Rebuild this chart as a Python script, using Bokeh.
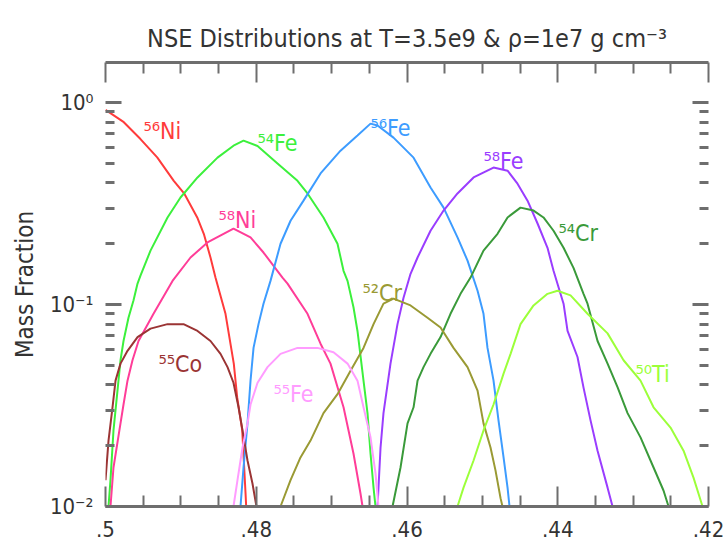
from bokeh.plotting import figure
from bokeh.models import Range1d, FixedTicker, LinearAxis, LogAxis
from bokeh.core.properties import value
from bokeh.embed import file_html
from bokeh.resources import INLINE

# ---------------- data ----------------
ni56_ye = [0.5, 0.49757, 0.49536, 0.49314, 0.49094, 0.48952, 0.48783, 0.48696, 0.48607,
           0.48541, 0.48408, 0.48298, 0.48253, 0.48186, 0.48142, 0.48133]
ni56_y = [0.92, 0.80, 0.66, 0.536, 0.41, 0.353, 0.27, 0.224, 0.171,
          0.136, 0.090, 0.051, 0.0347, 0.0238, 0.0116, 0.0099]

ni58_ye = [0.49934, 0.49894, 0.49801, 0.49761, 0.49708, 0.49642, 0.49562, 0.49363, 0.49111,
           0.48872, 0.48647, 0.48302, 0.48076, 0.47904, 0.47652, 0.47585, 0.47320, 0.47147,
           0.47015, 0.46842, 0.46710, 0.46617, 0.46590]
ni58_y = [0.010, 0.0156, 0.0258, 0.032, 0.042, 0.053, 0.066, 0.090, 0.131,
          0.171, 0.203, 0.238, 0.215, 0.181, 0.136, 0.127, 0.090, 0.064,
          0.051, 0.031, 0.0183, 0.0116, 0.010]

fe54_ye = [0.49960, 0.49934, 0.49894, 0.49841, 0.49801, 0.49761, 0.49695, 0.49628, 0.49575,
           0.49536, 0.49403, 0.49177, 0.49005, 0.48779, 0.48514, 0.48302, 0.48169, 0.47983,
           0.47718, 0.47453, 0.47320, 0.47108, 0.46922, 0.46842, 0.46789, 0.46710, 0.46657,
           0.46577, 0.46524, 0.46484, 0.46444, 0.46418]
fe54_y = [0.010, 0.0135, 0.0238, 0.0375, 0.053, 0.066, 0.086, 0.105, 0.127,
          0.139, 0.185, 0.27, 0.339, 0.426, 0.534, 0.612, 0.648, 0.61,
          0.50, 0.41, 0.355, 0.27, 0.20, 0.147, 0.131, 0.097, 0.074,
          0.042, 0.029, 0.0183, 0.0124, 0.010]

fe56_ye = [0.48209, 0.48169, 0.48116, 0.48076, 0.48036, 0.47970, 0.47904, 0.47811, 0.47678,
           0.47545, 0.47373, 0.47147, 0.46882, 0.46657, 0.46484, 0.46391, 0.46179, 0.45913,
           0.45688, 0.45515, 0.45330, 0.45197, 0.45064, 0.44985, 0.44932, 0.44852, 0.44786,
           0.44719, 0.44666, 0.44640]
fe56_y = [0.010, 0.0156, 0.0258, 0.042, 0.061, 0.080, 0.101, 0.131, 0.20,
          0.26, 0.327, 0.446, 0.578, 0.687, 0.787, 0.77, 0.671, 0.534,
          0.38, 0.302, 0.215, 0.165, 0.117, 0.090, 0.061, 0.042, 0.0267,
          0.0175, 0.0124, 0.010]

fe58_ye = [0.46391, 0.46351, 0.46312, 0.46219, 0.46126, 0.46046, 0.45953, 0.45860, 0.45688,
           0.45515, 0.45330, 0.45117, 0.44852, 0.44666, 0.44534, 0.44401, 0.44268, 0.44136,
           0.44056, 0.43923, 0.43870, 0.43738, 0.43658, 0.43565, 0.43472, 0.43339, 0.43273]
fe58_y = [0.010, 0.0196, 0.029, 0.051, 0.080, 0.108, 0.142, 0.171, 0.232,
          0.292, 0.355, 0.426, 0.477, 0.46, 0.397, 0.327, 0.252, 0.191,
          0.147, 0.101, 0.074, 0.055, 0.0388, 0.0267, 0.0189, 0.0124, 0.010]

cr54_ye = [0.46192, 0.46086, 0.45993, 0.45913, 0.45860, 0.45781, 0.45688, 0.45555, 0.45423,
           0.45290, 0.45157, 0.44985, 0.44799, 0.44666, 0.44494, 0.44321, 0.44189, 0.44056,
           0.43923, 0.43791, 0.43658, 0.43605, 0.43472, 0.43339, 0.43207, 0.43074, 0.42902,
           0.42729, 0.42597, 0.42530]
cr54_y = [0.010, 0.0156, 0.0258, 0.031, 0.042, 0.049, 0.057, 0.069, 0.090,
          0.113, 0.136, 0.185, 0.224, 0.27, 0.302, 0.292, 0.27, 0.232,
          0.191, 0.152, 0.113, 0.101, 0.066, 0.051, 0.039, 0.029, 0.022,
          0.0156, 0.012, 0.010]

cr52_ye = [0.47678, 0.47545, 0.47413, 0.47280, 0.47108, 0.46922, 0.46749, 0.46577, 0.46444,
           0.46312, 0.46179, 0.45953, 0.45728, 0.45555, 0.45383, 0.45197, 0.45064, 0.44985,
           0.44892, 0.44826, 0.44759, 0.44733]
cr52_y = [0.010, 0.0135, 0.0175, 0.0212, 0.029, 0.036, 0.047, 0.061, 0.080,
          0.101, 0.107, 0.099, 0.086, 0.077, 0.061, 0.049, 0.0375, 0.0258,
          0.0196, 0.0151, 0.011, 0.010]

ti50_ye = [0.45330, 0.45250, 0.45117, 0.44985, 0.44852, 0.44719, 0.44626, 0.44494, 0.44321,
           0.44136, 0.44003, 0.43830, 0.43605, 0.43339, 0.43127, 0.42902, 0.42729, 0.42504,
           0.42331, 0.42199, 0.42079]
ti50_y = [0.010, 0.0124, 0.0169, 0.0238, 0.032, 0.0455, 0.057, 0.080, 0.099,
          0.113, 0.117, 0.111, 0.090, 0.072, 0.053, 0.042, 0.031, 0.0246,
          0.0189, 0.0139, 0.010]

co55_ye = [0.5, 0.49960, 0.49907, 0.49867, 0.49801, 0.49708, 0.49575, 0.49403, 0.49177,
           0.48965, 0.48779, 0.48607, 0.48474, 0.48381, 0.48302, 0.48235, 0.48182, 0.48116,
           0.48050, 0.47997]
co55_y = [0.0135, 0.0212, 0.031, 0.042, 0.051, 0.059, 0.069, 0.076, 0.080,
          0.080, 0.074, 0.066, 0.057, 0.049, 0.041, 0.031, 0.0238, 0.0169,
          0.013, 0.010]

fe55_ye = [0.48302, 0.48249, 0.48182, 0.48116, 0.48076, 0.47983, 0.47851, 0.47678, 0.47453,
           0.47187, 0.46975, 0.46789, 0.46657, 0.46577, 0.46484, 0.46418, 0.46378]
fe55_y = [0.010, 0.0135, 0.0196, 0.0258, 0.032, 0.041, 0.049, 0.057, 0.061,
          0.061, 0.058, 0.051, 0.042, 0.031, 0.022, 0.0146, 0.010]

species = ["⁵⁶Ni", "⁵⁴Fe", "⁵⁸Ni", "⁵⁶Fe", "⁵⁸Fe", "⁵⁴Cr", "⁵²Cr", "⁵⁵Co", "⁵⁵Fe", "⁵⁰Ti"]
series_ye = [ni56_ye, fe54_ye, ni58_ye, fe56_ye, fe58_ye, cr54_ye, cr52_ye, co55_ye, fe55_ye, ti50_ye]
series_y = [ni56_y, fe54_y, ni58_y, fe56_y, fe58_y, cr54_y, cr52_y, co55_y, fe55_y, ti50_y]

# label anchor positions (data units)
label_ye = [0.49496, 0.47983, 0.48501, 0.46484, 0.44985, 0.43990, 0.46590, 0.49297, 0.47771, 0.42968]
label_y = [0.726, 0.634, 0.261, 0.751, 0.516, 0.227, 0.1146, 0.051, 0.0362, 0.0455]

x_ticks = [0.5, 0.48, 0.46, 0.44, 0.42]
x_tick_labels = [".5", ".48", ".46", ".44", ".42"]
y_ticks = [0.01, 0.1, 1.0]
y_tick_labels = ["10⁻²", "10⁻¹", "10⁰"]

# ---------------- styling ----------------
colors = ["#ff3b3b", "#3cf03c", "#ff3d98", "#3d9cff", "#9a3dff",
          "#3a9a3a", "#9a9a34", "#9b3434", "#ff9cff", "#9cff3a"]
FONT = "Liberation Sans Narrow, DejaVu Sans Condensed, Liberation Sans, sans-serif"
AX = "#6e6e6e"
TXT = "#333333"

x_minor = [round(0.5 - 0.005 * i, 3) for i in range(17) if i % 4]
y_minor = [k * 10.0 ** e for e in (-2, -1) for k in range(2, 10)]

p = figure(frame_width=603, frame_height=444,
           min_border_left=105, min_border_right=20, min_border_top=62, min_border_bottom=52,
           x_range=Range1d(0.5, 0.42), y_range=Range1d(0.01, 1.58),
           y_axis_type="log", output_backend="svg", toolbar_location=None)
p.background_fill_color = "white"
p.border_fill_color = "white"
p.outline_line_color = None
p.xgrid.visible = False
p.ygrid.visible = False

bottom = p.below[0]
left = p.left[0]

p.title.text = "NSE Distributions at T=3.5e9 & ρ=1e7 g cm⁻³"
p.title.align = "center"
p.title.text_font = FONT
p.title.text_font_size = "25px"
p.title.text_font_style = "normal"
p.title.text_color = TXT
p.title.standoff = 20

xt = FixedTicker(ticks=x_ticks, minor_ticks=x_minor)
yt = FixedTicker(ticks=y_ticks, minor_ticks=y_minor)

top = LinearAxis(ticker=xt, major_label_overrides={t: "" for t in x_ticks})
right = LogAxis(ticker=yt, major_label_overrides={t: "" for t in y_ticks})
p.add_layout(top, "above")
p.add_layout(right, "right")

for ax in [bottom, top]:
    ax.ticker = xt
    ax.axis_line_color = AX
    ax.axis_line_width = 3
    ax.major_tick_line_color = AX
    ax.minor_tick_line_color = AX
    ax.major_tick_line_width = 2
    ax.minor_tick_line_width = 2
    ax.major_tick_in = 20
    ax.major_tick_out = 0
    ax.minor_tick_in = 11
    ax.minor_tick_out = 0

for ax in [left, right]:
    ax.ticker = yt
    ax.axis_line_color = None
    ax.major_tick_line_color = AX
    ax.minor_tick_line_color = AX
    ax.major_tick_line_width = 3
    ax.minor_tick_line_width = 3
    ax.major_tick_in = 16
    ax.major_tick_out = 0
    ax.minor_tick_in = 9
    ax.minor_tick_out = 0

bottom.major_label_overrides = dict(zip(x_ticks, x_tick_labels))
bottom.major_label_text_font = FONT
bottom.major_label_text_font_size = "22px"
bottom.major_label_text_color = TXT
bottom.major_label_standoff = 14

left.major_label_overrides = dict(zip(y_ticks, y_tick_labels))
left.major_label_text_font = FONT
left.major_label_text_font_size = "22px"
left.major_label_text_color = TXT
left.major_label_standoff = 12
left.axis_label = "Mass Fraction"
left.axis_label_text_font = FONT
left.axis_label_text_font_size = "24px"
left.axis_label_text_font_style = "normal"
left.axis_label_text_color = TXT
left.axis_label_standoff = 8

top.major_label_standoff = 0
right.major_label_standoff = 0

for xs, ys, c in zip(series_ye, series_y, colors):
    p.line(xs, ys, line_color=c, line_width=2)

p.text(x=label_ye, y=label_y, text=species, text_color=colors,
       text_font=value(FONT), text_font_size="23px",
       text_align="left", text_baseline="alphabetic")

open("out.html", "w").write(file_html(p, INLINE))
